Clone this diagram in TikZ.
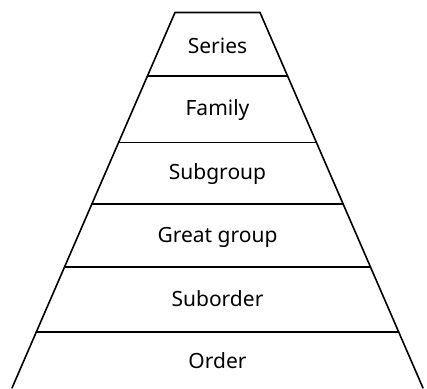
\documentclass[tikz,border=0pt]{standalone}
\usepackage{fontspec}
\setmainfont{Noto Sans}
\begin{document}
\begin{tikzpicture}[x=1pt,y=-1pt,
  edge/.style={line width=1.6pt,black,line cap=round,line join=miter},
  lbl/.style={font=\fontsize{21}{24}\selectfont,anchor=center,inner sep=0pt}]
\useasboundingbox (0,0) rectangle (427,388);
% trapezoid sides
\coordinate (tl) at (175,12.5);
\coordinate (tr) at (260,12.5);
\coordinate (bl) at (12,388);
\coordinate (br) at (423,388);
\draw[edge] (bl) -- (tl) -- (tr) -- (br);
% horizontal dividers: x on left side = 175 - 0.434*(y-12.5)
\foreach \yy in {76,142.5,204,267,332}{
  \pgfmathsetmacro{\xl}{175-0.4341*(\yy-12.5)}
  \pgfmathsetmacro{\xr}{260+0.4341*(\yy-12.5)}
  \draw[edge] (\xl,\yy) -- (\xr,\yy);
}
\node[lbl] (series) at (217.5,46) {Series};
\node[lbl] (family) at (217.5,110) {Family};
\node[lbl] (subgroup) at (217.5,174) {Subgroup};
\node[lbl] (greatgroup) at (217.5,237) {Great group};
\node[lbl] (suborder) at (217.5,299) {Suborder};
\node[lbl] (order) at (217.5,361) {Order};
\end{tikzpicture}
\end{document}
